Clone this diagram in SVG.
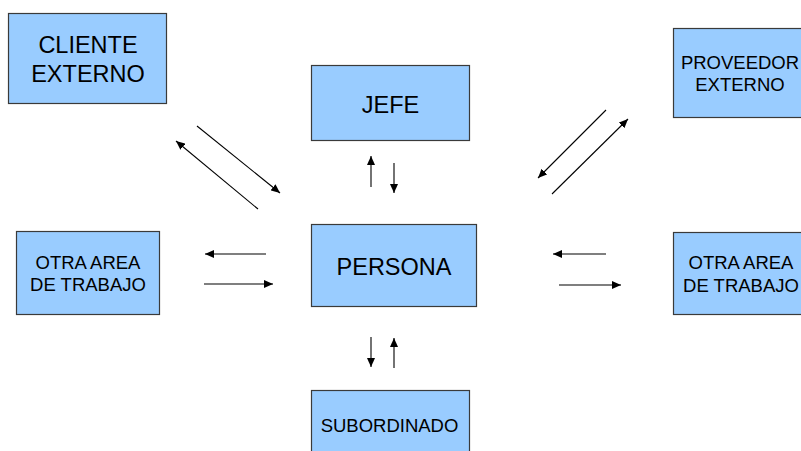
<svg xmlns="http://www.w3.org/2000/svg" width="801" height="451" viewBox="0 0 801 451">
  <style>
    .box { fill: #99ccff; stroke: #3a3a3a; stroke-width: 1.2; }
    .lbl { font-family: "Liberation Sans", Arial, sans-serif; fill: #000; text-anchor: middle; }
    .big { font-size: 23.5px; }
    .small { font-size: 18.5px; }
    .arrow { stroke: #000; stroke-width: 1.1; fill: none; marker-end: url(#head); }
  </style>
  <defs>
    <marker id="head" markerUnits="userSpaceOnUse" markerWidth="10" markerHeight="8" refX="9" refY="4" orient="auto">
      <path d="M0,0 L9,4 L0,8 Z" fill="#000"/>
    </marker>
  </defs>
  <rect width="801" height="451" fill="#fff"/>

  <g id="cliente-externo">
    <rect class="box" x="8.5" y="13.5" width="158" height="90"/>
    <text class="lbl big" x="88" y="53">CLIENTE</text>
    <text class="lbl big" x="88" y="82">EXTERNO</text>
  </g>

  <g id="jefe">
    <rect class="box" x="311.5" y="65.5" width="158" height="75"/>
    <text class="lbl big" x="390.5" y="113">JEFE</text>
  </g>

  <g id="proveedor-externo">
    <rect class="box" x="673.5" y="28.5" width="140" height="89"/>
    <text class="lbl small" x="740" y="69">PROVEEDOR</text>
    <text class="lbl small" x="740" y="91">EXTERNO</text>
  </g>

  <g id="otra-area-izq">
    <rect class="box" x="16.5" y="231.5" width="143" height="83"/>
    <text class="lbl small" x="88" y="269">OTRA AREA</text>
    <text class="lbl small" x="88" y="291">DE TRABAJO</text>
  </g>

  <g id="persona">
    <rect class="box" x="311.5" y="224.5" width="165" height="82"/>
    <text class="lbl big" x="394" y="275">PERSONA</text>
  </g>

  <g id="otra-area-der">
    <rect class="box" x="673.5" y="232.5" width="140" height="82"/>
    <text class="lbl small" x="741" y="269">OTRA AREA</text>
    <text class="lbl small" x="741" y="292">DE TRABAJO</text>
  </g>

  <g id="subordinado">
    <rect class="box" x="311.5" y="390.5" width="158" height="70"/>
    <text class="lbl small" x="389.5" y="432">SUBORDINADO</text>
  </g>

  <g id="connectors">
    <!-- cliente externo <-> persona -->
    <line class="arrow" x1="197" y1="126" x2="280" y2="193"/>
    <line class="arrow" x1="258" y1="209" x2="176" y2="141"/>
    <!-- jefe <-> persona -->
    <line class="arrow" x1="371" y1="187" x2="371" y2="156"/>
    <line class="arrow" x1="394" y1="163" x2="394" y2="193"/>
    <!-- proveedor externo <-> persona -->
    <line class="arrow" x1="606" y1="110" x2="538" y2="178"/>
    <line class="arrow" x1="552" y1="194" x2="628" y2="119"/>
    <!-- otra area izquierda <-> persona -->
    <line class="arrow" x1="266" y1="254" x2="205" y2="254"/>
    <line class="arrow" x1="204" y1="284" x2="273" y2="284"/>
    <!-- otra area derecha <-> persona -->
    <line class="arrow" x1="606" y1="254" x2="553" y2="254"/>
    <line class="arrow" x1="559" y1="285" x2="621" y2="285"/>
    <!-- persona <-> subordinado -->
    <line class="arrow" x1="371" y1="337" x2="371" y2="367"/>
    <line class="arrow" x1="394" y1="368" x2="394" y2="338"/>
  </g>
</svg>
